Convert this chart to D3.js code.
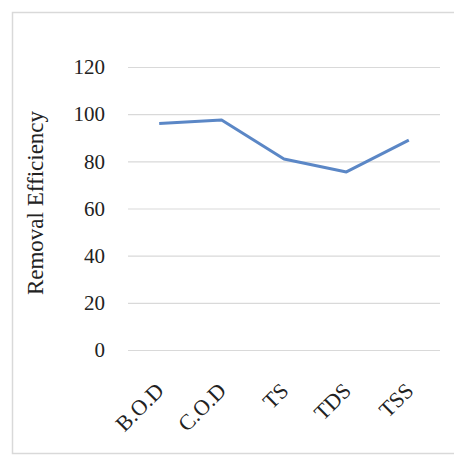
<!DOCTYPE html>
<html><head><meta charset="utf-8">
<script src="https://cdn.jsdelivr.net/npm/d3@7"></script>
<style>body{margin:0;background:#fff}svg{display:block}</style>
</head><body>
<svg id="c" width="454" height="456"></svg>
<script>
const categories = ["B.O.D","C.O.D","TS","TDS","TSS"];
const values = [96, 97.5, 81, 75.5, 89];
const yTicks = [0,20,40,60,80,100,120];
const yTitle = "Removal Efficiency";

const svg = d3.select("#c");
const font = "'Liberation Serif','Times New Roman',serif";
const m = {left:128, right:440, top:67, bottom:350};

svg.append("rect").attr("x",12.5).attr("y",12.5).attr("width",460).attr("height",441)
  .attr("fill","none").attr("stroke","#d9d9d9").attr("stroke-width",1.5);

const x = d3.scaleBand().domain(categories).range([m.left,m.right]);
const y = d3.scaleLinear().domain([0,120]).range([m.bottom,m.top]);

const ya = svg.append("g").attr("transform",`translate(${m.left},0)`)
  .call(d3.axisLeft(y).tickValues(yTicks).tickSize(-(m.right-m.left)).tickPadding(23));
ya.select(".domain").remove();
ya.selectAll(".tick line").attr("stroke","#d9d9d9").attr("stroke-width",1.2);
ya.selectAll(".tick text").attr("font-family",font).attr("font-size",21).attr("fill","#222");

const xa = svg.append("g").attr("transform",`translate(0,${m.bottom})`)
  .call(d3.axisBottom(x).tickSize(0).tickPadding(0));
xa.select(".domain").remove();
xa.selectAll(".tick text").attr("font-family",font).attr("font-size",22).attr("fill","#222")
  .attr("text-anchor","end").attr("dy",0).attr("y",0)
  .attr("transform","translate(6,42) rotate(-45)");

const line = d3.line().x((d,i)=>x(categories[i])+x.bandwidth()/2).y(d=>y(d));
svg.append("path").datum(values).attr("d",line).attr("fill","none")
  .attr("stroke","#5b87c6").attr("stroke-width",3).attr("stroke-linejoin","round");

svg.append("text").attr("transform",`translate(43,203) rotate(-90)`)
  .attr("text-anchor","middle").attr("font-family",font).attr("font-size",23).attr("fill","#222")
  .text(yTitle);
</script>
</body></html>
